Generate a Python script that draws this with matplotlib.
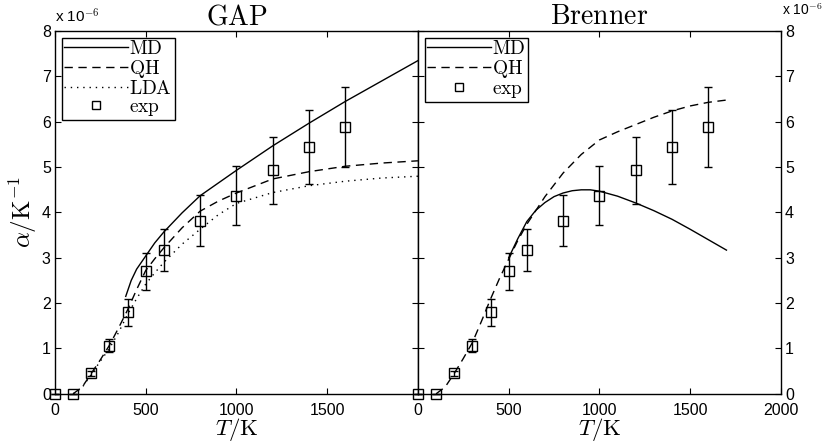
import matplotlib
matplotlib.use("Agg")
import matplotlib.pyplot as plt
from matplotlib.lines import Line2D

plt.rcParams['mathtext.fontset'] = 'cm'
plt.rcParams['font.family'] = ['Liberation Sans', 'DejaVu Sans']

# experimental data (units of 1e-6 1/K)
exp_T = [0, 100, 200, 300, 400, 500, 600, 800, 1000, 1200, 1400, 1600]
exp_a = [0, 0, 0.45, 1.05, 1.8, 2.7, 3.17, 3.82, 4.37, 4.93, 5.44, 5.88]
exp_lo = [0, 0, 0.40, 0.93, 1.50, 2.30, 2.70, 3.25, 3.72, 4.18, 4.62, 5.00]
exp_hi = [0, 0, 0.50, 1.20, 2.10, 3.10, 3.63, 4.38, 5.03, 5.67, 6.25, 6.76]

# GAP
gap_md_T = [390, 420, 450, 500, 550, 600, 700, 800, 1000, 1200, 1400, 1600, 1800, 2000]
gap_md_a = [2.15, 2.5, 2.75, 3.04, 3.33, 3.57, 3.99, 4.37, 4.93, 5.47, 5.97, 6.45, 6.9, 7.35]
gap_qh_T = [100, 150, 200, 250, 300, 350, 400, 450, 500, 550, 600, 700, 800, 900, 1000, 1200, 1400, 1600, 1800, 2000]
gap_qh_a = [0, 0.15, 0.45, 0.75, 1.07, 1.45, 1.85, 2.3, 2.72, 2.98, 3.22, 3.66, 4.03, 4.25, 4.43, 4.74, 4.9, 5.02, 5.09, 5.14]
gap_lda_T = [100, 150, 200, 250, 300, 350, 400, 450, 500, 550, 600, 700, 800, 900, 1000, 1200, 1400, 1600, 1800, 2000]
gap_lda_a = [0, 0.14, 0.43, 0.72, 1.0, 1.35, 1.75, 2.1, 2.42, 2.67, 2.9, 3.3, 3.63, 3.95, 4.2, 4.44, 4.59, 4.69, 4.76, 4.8]

# Brenner
br_md_T = [500, 550, 600, 650, 700, 750, 800, 850, 900, 950, 1000, 1100, 1200, 1300, 1400, 1500, 1600, 1700]
br_md_a = [3.0, 3.42, 3.8, 4.05, 4.22, 4.35, 4.43, 4.48, 4.5, 4.5, 4.47, 4.36, 4.21, 4.04, 3.85, 3.63, 3.4, 3.17]
br_qh_T = [100, 150, 200, 250, 300, 350, 400, 450, 500, 550, 600, 700, 800, 900, 1000, 1100, 1200, 1300, 1400, 1500, 1600, 1700]
br_qh_a = [0, 0.15, 0.45, 0.78, 1.13, 1.6, 2.09, 2.55, 2.97, 3.38, 3.74, 4.35, 4.87, 5.28, 5.6, 5.78, 5.94, 6.1, 6.24, 6.35, 6.43, 6.48]

fig = plt.figure(figsize=(8.24, 4.45), dpi=100)
axL = fig.add_axes([0.0667, 0.115, 0.4405, 0.815])
axR = fig.add_axes([0.5072, 0.115, 0.4405, 0.815])

DASH = (6, 4)
DOT = (1, 3.5)

def draw_exp(ax):
    yerr = [[a - l for a, l in zip(exp_a, exp_lo)], [h - a for a, h in zip(exp_a, exp_hi)]]
    ax.errorbar(exp_T, exp_a, yerr=yerr, fmt='s', color='black', mfc='none', mec='black',
                ms=7, mew=1.0, elinewidth=1.0, capsize=3, capthick=1.0, clip_on=False,
                zorder=3)

axL.plot(gap_md_T, gap_md_a, '-', color='black', lw=1.0)
axL.plot(gap_qh_T, gap_qh_a, '--', color='black', lw=1.0, dashes=DASH)
axL.plot(gap_lda_T, gap_lda_a, ':', color='black', lw=1.0, dashes=DOT)
draw_exp(axL)

axR.plot(br_md_T, br_md_a, '-', color='black', lw=1.0)
axR.plot(br_qh_T, br_qh_a, '--', color='black', lw=1.0, dashes=DASH)
draw_exp(axR)

h_md = Line2D([], [], color='black', lw=1.0)
h_qh = Line2D([], [], color='black', lw=1.0, ls='--', dashes=DASH)
h_lda = Line2D([], [], color='black', lw=1.0, ls=':', dashes=DOT)
h_exp = Line2D([], [], color='black', ls='none', marker='s', mfc='none', mec='black', ms=6, mew=1.0)

for ax in (axL, axR):
    ax.set_xlim(0, 2000)
    ax.set_ylim(0, 8)
    ax.set_yticks(range(0, 9))
    ax.tick_params(direction='in', top=True, right=True, left=True, length=4,
                   labelsize=11.5, width=0.8, pad=3)
    ax.tick_params(axis='x', pad=6.5)
    for s in ax.spines.values():
        s.set_linewidth(1.0)
    ax.set_xlabel(r'$T/\mathrm{K}$', fontsize=16.5, labelpad=-1)

for ax, handles, labels in ((axL, [h_md, h_qh, h_lda, h_exp],
                             [r'$\mathrm{MD}$', r'$\mathrm{QH}$', r'$\mathrm{LDA}$', r'$\mathrm{exp}$']),
                            (axR, [h_md, h_qh, h_exp],
                             [r'$\mathrm{MD}$', r'$\mathrm{QH}$', r'$\mathrm{exp}$'])):
    leg = ax.legend(handles, labels, loc='upper left', fontsize=14, frameon=True, fancybox=False,
                    edgecolor='black', framealpha=1, handlelength=3.3,
                    labelspacing=0.0, borderpad=0.12, handletextpad=0.05,
                    borderaxespad=0.35, numpoints=1)
    leg.get_frame().set_linewidth(1.0)

axL.set_xticks([0, 500, 1000, 1500])
axR.set_xticks([0, 500, 1000, 1500, 2000])
axR.tick_params(labelleft=False, labelright=True)
axL.set_ylabel(r'$\alpha/\mathrm{K}^{-1}$', fontsize=18, labelpad=2)

axL.set_title(r'$\mathrm{GAP}$', fontsize=20, pad=5)
axR.set_title(r'$\mathrm{Brenner}$', fontsize=20, pad=5)

axL.text(0.0, 1.015, r'x 10$^{-6}$', transform=axL.transAxes, fontsize=11, ha='left', va='bottom')
axR.text(1.003, 1.035, r'x 10$^{-6}$', transform=axR.transAxes, fontsize=10, ha='left', va='bottom')

fig.savefig('out.png', dpi=100)
